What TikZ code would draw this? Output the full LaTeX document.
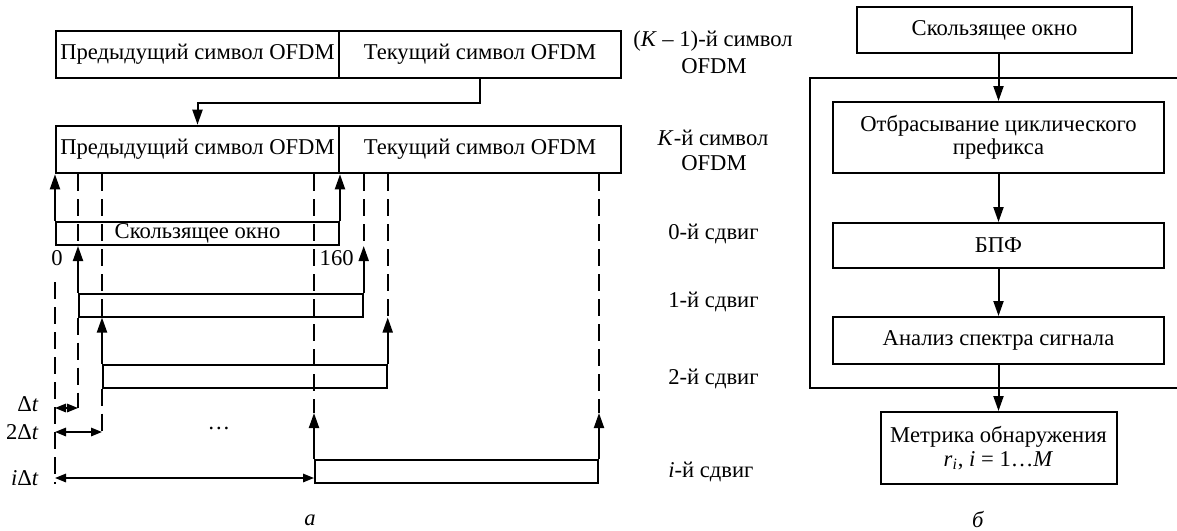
\documentclass[tikz,border=0pt]{standalone}
\usepackage{fontspec}
\setmainfont{Liberation Serif}
\usetikzlibrary{arrows.meta}
\begin{document}
\begin{tikzpicture}[x=0.5pt,y=-0.5pt,
  every node/.style={font=\fontsize{11.3}{11.8}\selectfont, inner sep=0pt},
  box/.style={draw, line width=1pt, align=center},
  win/.style={draw, line width=1pt, minimum height=11.5pt},
  ar/.style={line width=1pt, -{Triangle[length=7.5pt,width=5pt]}},
  dim/.style={line width=0.9pt, {Triangle[length=5.5pt,width=4.2pt]}-{Triangle[length=5.5pt,width=4.2pt]}},
  dsh/.style={line width=1pt, dash pattern=on 8.5pt off 4pt},
  frm/.style={line width=0.6pt}]
\useasboundingbox (0,0) rectangle (1177,530);

% ---------- left part: OFDM symbols ----------
\node[box, minimum width=141.5pt, minimum height=23.8pt] (p1) at (197.5,54.5) {Предыдущий символ OFDM};
\node[box, minimum width=141pt, minimum height=23.8pt] (c1) at (480,54.5) {Текущий символ OFDM};
\node[box, minimum width=141.5pt, minimum height=23.8pt] (p2) at (197.5,149.5) {Предыдущий символ OFDM};
\node[box, minimum width=141pt, minimum height=23.8pt] (c2) at (480,149.5) {Текущий символ OFDM};
\draw[ar] (c1.south) |- (p2.north |- 0,103) -- (p2.north);

\node (k1a) at (713,41) {(\textit{K} – 1)-й символ};
\node (k1b) at (714,66) {OFDM};
\node (k2a) at (713,138) {\textit{K}-й символ};
\node (k2b) at (714,163) {OFDM};

% windows
\node[win, minimum width=141.5pt] (w0) at (197.5,233.5) {Скользящее окно};
\node[win, minimum width=141.85pt] (w1) at (220.85,305) {};
\node[win, minimum width=141.85pt] (w2) at (244.85,376) {};
\node[win, minimum width=141.5pt] (wi) at (456.5,471.5) {};

% arrows from windows
\draw[ar] (w0.north west) -- (w0.north west |- p2.south);
\draw[ar] (w0.north east) -- (w0.north east |- p2.south);
\draw[ar] (w1.north west) -- (w1.north west |- w0.south);
\draw[ar] (w1.north east) -- (w1.north east |- w0.south);
\draw[ar] (w2.north west) -- (w2.north west |- w1.south);
\draw[ar] (w2.north east) -- (w2.north east |- w1.south);
\draw[ar] (wi.north west) -- (wi.north west |- 0,413);
\draw[ar] (wi.north east) -- (wi.north east |- 0,413);

% dashed guides
\draw[dsh] (w1.north west |- p2.south) -- (w1.north west |- w0.south);
\draw[dsh] (w1.south west) -- (w1.south west |- 0,408);
\draw[dsh] (w2.north west |- p2.south) -- (w2.north west |- w1.south);
\draw[dsh] (w2.south west) -- (w2.south west |- 0,432);
\draw[dsh] (wi.north west |- p2.south) -- (wi.north west |- 0,413);
\draw[dsh] (w1.north east |- p2.south) -- (w1.north east |- w0.south);
\draw[dsh] (w2.north east |- p2.south) -- (w2.north east |- w1.south);
\draw[dsh] (wi.north east |- p2.south) -- (wi.north east |- 0,413);
\draw[dsh] (w0.south west |- 0,282) -- (w0.south west |- wi.south);

% dimension arrows
\draw[dim] (w0.south west |- 0,408) -- (w1.south west |- 0,408);
\draw[dim] (w0.south west |- 0,432) -- (w2.south west |- 0,432);
\draw[dim] (w0.south west |- 0,478) -- (wi.south west |- 0,478);

\node (n0) at (57,258) {0};
\node[anchor=east] (n160) at (354,258) {160};
\node[anchor=east] (d1) at (39,404) {Δ\textit{t}};
\node[anchor=east] (d2) at (39,432) {2Δ\textit{t}};
\node[anchor=east] (di) at (39,478) {\textit{i}Δ\textit{t}};
\node (dots) at (219,428) {…};

\node[anchor=west] (s0) at (668,234) {0-й сдвиг};
\node[anchor=west] (s1) at (668,302) {1-й сдвиг};
\node[anchor=west] (s2) at (668,379) {2-й сдвиг};
\node[anchor=west] (si) at (668,472) {\textit{i}-й сдвиг};

\node (la) at (310,520) {\textit{а}};

% ---------- right part: flow chart ----------
\draw[frm] (1180,78) -- (810,78) -- (810,388) -- (1180,388);
\node[box, minimum width=137.5pt, minimum height=23pt] (b1) at (994.5,30) {Скользящее окно};
\node[box, minimum width=165.5pt, minimum height=35.5pt] (b2) at (998.5,137.5) {Отбрасывание циклического\\префикса};
\node[box, minimum width=165.5pt, minimum height=22.5pt] (b3) at (998.5,245.5) {БПФ};
\node[box, minimum width=165.5pt, minimum height=23.5pt] (b4) at (998.5,340.5) {Анализ спектра сигнала};
\node[box, minimum width=118pt, minimum height=36pt] (b5) at (998.5,448) {Метрика обнаружения\\\textit{r}\textsubscript{\textit{i}}, \textit{i} = 1…\textit{M}};
\draw[ar] (b1.south -| b2.north) -- (b2.north);
\draw[ar] (b2.south) -- (b3.north);
\draw[ar] (b3.south) -- (b4.north);
\draw[ar] (b4.south) -- (b5.north);

\node (lb) at (978,520) {\textit{б}};
\end{tikzpicture}
\end{document}
